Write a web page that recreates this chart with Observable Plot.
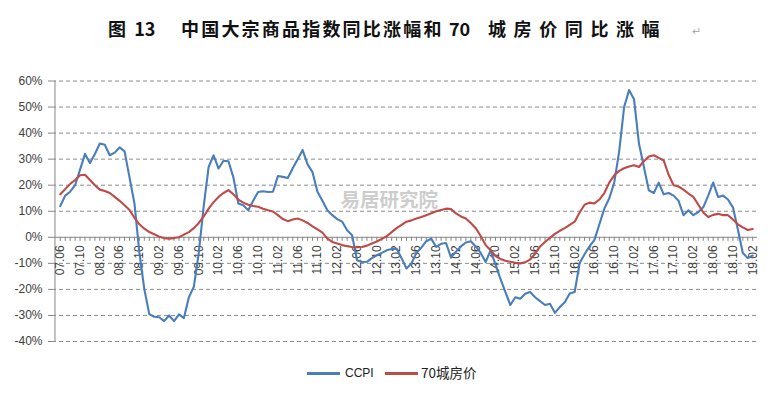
<!DOCTYPE html>
<html><head><meta charset="utf-8">
<script src="https://cdn.jsdelivr.net/npm/d3@7"></script>
<script src="https://cdn.jsdelivr.net/npm/@observablehq/plot@0.6"></script>
<style>
body{margin:0;background:#fff;width:772px;height:397px;overflow:hidden;position:relative;font-family:"Liberation Sans",Arial,sans-serif}
.t{position:absolute;font-family:"Noto Sans CJK SC",sans-serif;font-size:18px;line-height:18px;font-weight:700;color:#111;white-space:nowrap}
#chart{position:absolute;left:0;top:52px}
.lg{position:absolute;height:2.5px;width:33px;top:372px}
.lt{position:absolute;top:365px;font-size:12px;color:#222;white-space:nowrap;line-height:16px}
</style></head><body>
<div class="t" style="left:108px;top:19px">图&nbsp;&nbsp;13</div>
<div class="t" style="left:181px;top:19px;letter-spacing:2.2px">中国大宗商品指数同比涨幅和</div>
<div class="t" style="left:449px;top:19px">70</div>
<div class="t" style="left:488px;top:19px;letter-spacing:7.6px">城房价同比涨幅</div>
<div style="position:absolute;left:692px;top:25px;font-size:11px;color:#aaa">↵</div>
<div id="chart"></div>
<div class="lg" style="left:307px;background:#4a7ebb"></div>
<div class="lt" style="left:345px">CCPI</div>
<div class="lg" style="left:385px;background:#be4b48"></div>
<div class="lt" style="left:421px;top:364px;font-family:'Noto Sans CJK SC',sans-serif;font-size:13.5px">70城房价</div>
<script>
// CCPI 同比 (%), monthly 2007.06 - 2019.02
const ccpi = [
 12, 16, 17.5, 20, 26, 32, 28.5, 32, 36, 35.5,
 31.5, 32.5, 34.5, 33, 23, 13, -6, -20, -29.5, -30.5,
 -30.7, -32.2, -30, -32.2, -29.6, -31, -23, -19, -6, 12,
 27, 31.5, 26.4, 29.4, 29.2, 23, 13, 12.3, 10.4, 14,
 17.4, 17.7, 17.4, 17.5, 23.5, 23.2, 22.8, 26.5, 30, 33.5,
 28, 25, 17.5, 14, 10.4, 8.5, 7, 6, 2.7, 0.8,
 -8.8, -9.5, -9.4, -8, -6.9, -6, -5, -4.5, -4.4, -8,
 -12, -10, -6, -4, -1.5, -0.5, -3.7, -2.5, -2.2, -7.8,
 -5.5, -3.5, -2, -1.5, -3.5, -6, -9.5, -5, -10.5, -16,
 -21, -26, -23, -23.6, -21.7, -21, -23, -24.5, -26, -25.5,
 -29, -26.8, -24.9, -21.6, -21, -10, -6.5, -3.5, -1, 5,
 11, 15, 21, 33, 50, 56.5, 53, 36, 27, 18,
 17, 21, 16.5, 17, 16, 14, 8.5, 10.4, 8.5, 9.7,
 11.5, 16, 21, 15.5, 16, 14.5, 11.5, 3, -6, -8, -7
];
// 70城房价 同比 (%)
const house = [
 16.5, 18.5, 20.5, 22, 23.8, 24, 22, 20, 18.3, 17.8,
 17, 15.5, 14, 12.3, 10.5, 7.5, 5, 3.3, 2, 1.2,
 0.2, -0.3, -0.5, -0.3, 0, 1, 2, 3.5, 5.5, 8,
 11, 13.5, 15.5, 17, 18.1, 16.5, 14.5, 13.3, 12.5, 12,
 11.7, 11, 10.4, 9.9, 8.5, 7, 6.2, 6.8, 7.2, 6.5,
 5.5, 4.2, 3, 1.8, -0.5, -1.8, -2.4, -3, -3.4, -3.7,
 -3.8, -3.7, -3.2, -2.4, -1.6, -0.6, 0.4, 2, 3.5, 4.8,
 6, 6.5, 7.2, 7.8, 8.5, 9.2, 10, 10.5, 11, 10.8,
 9.2, 8, 7.2, 5.5, 3.5, 0.5, -3, -5, -7.2, -8.3,
 -9, -9.4, -9.8, -10, -9.6, -8.5, -6.3, -3.5, -1.8, -0.2,
 1.3, 2.5, 3.5, 4.8, 6, 9.5, 12.5, 13.3, 13, 14.5,
 17, 21, 23.8, 25.5, 26.5, 27.2, 27.7, 27, 29.2, 31,
 31.5, 30.5, 29.5, 24, 20, 19.5, 18.3, 16.8, 15.5, 12.5,
 9.5, 7.8, 8.6, 9, 8.5, 8.5, 6.8, 5, 3.8, 2.8, 3.2
];
const tickLabels = ["07.06","07.10","08.02","08.06","08.10","09.02","09.06","09.10","10.02","10.06","10.10","11.02","11.06","11.10","12.02","12.06","12.10","13.02","13.06","13.10","14.02","14.06","14.10","15.02","15.06","15.10","16.02","16.06","16.10","17.02","17.06","17.10","18.02","18.06","18.10","19.02"];
const yTicks = [-40,-30,-20,-10,0,10,20,30,40,50,60];
const seriesNames = ["CCPI","70城房价"];
const watermark = "易居研究院";

const fmt = d3.utcFormat("%y.%m");
const start = new Date(Date.UTC(2007,5,1));
const months = ccpi.map((_, i) => fmt(d3.utcMonth.offset(start, i)));
const data = months.map((m, i) => ({m, ccpi: ccpi[i], house: house[i]}));

const chart = Plot.plot({
  width: 772, height: 300,
  marginLeft: 52, marginRight: 15, marginTop: 28.5, marginBottom: 11,
  x: {type: "point", domain: months, range: [57.3, 754.7], axis: null},
  y: {domain: [-40, 60]},
  style: {fontFamily: "Liberation Sans, Arial, sans-serif", background: "transparent", overflow: "visible"},
  marks: [
    Plot.ruleY(yTicks.filter(d => d !== 0), {stroke: "#8c8c8c", strokeDasharray: "4,3", strokeWidth: 1}),
    Plot.axisY({ticks: yTicks, tickFormat: d => d + "%", tickSize: 4, tickPadding: 6, fontSize: 12, stroke: "#868686", fill: "#404040", label: null}),
    Plot.ruleX([months[0]], {y1: -40, y2: 60, dx: -5.3, stroke: "#868686"}),
    Plot.ruleY([0], {stroke: "#868686", strokeWidth: 1}),
    Plot.ruleX(months, {x: d => d, y1: 0, y2: -1.55, stroke: "#868686"}),
    Plot.text(tickLabels, {x: d => d, y: 0, text: d => d, rotate: -90, textAnchor: "end", dy: 8, fontSize: 12, fill: "#404040"}),
    Plot.text([watermark], {frameAnchor: "left", text: d => d, textAnchor: "start", dx: 288, dy: -10.5, fontSize: 19.5, fontWeight: "bold", fill: "#cdcdcd", fontFamily: "Noto Sans CJK SC, sans-serif"}),
    Plot.line(data, {x: "m", y: "ccpi", stroke: "#4a7ebb", strokeWidth: 2.1, title: () => seriesNames[0]}),
    Plot.line(data, {x: "m", y: "house", stroke: "#be4b48", strokeWidth: 2.1, title: () => seriesNames[1]})
  ]
});
document.getElementById("chart").appendChild(chart);
</script>
</body></html>
